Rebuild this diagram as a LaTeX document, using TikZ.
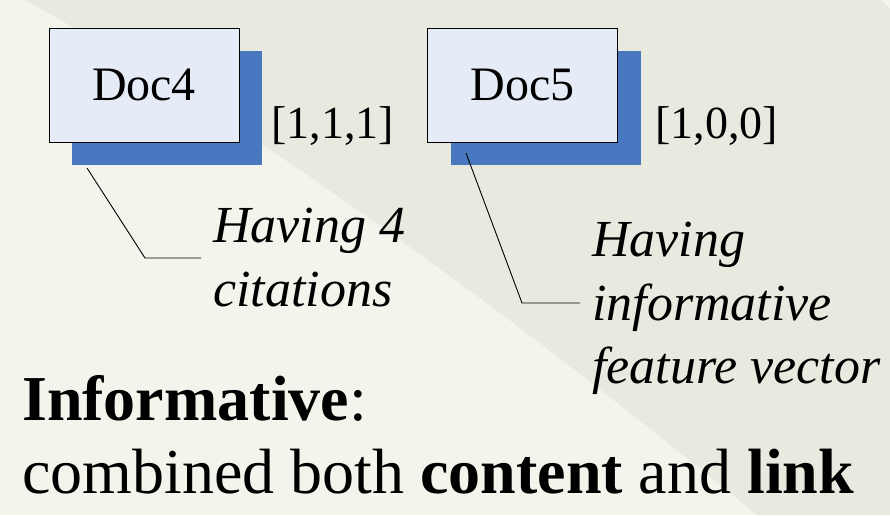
\documentclass[tikz,border=0pt]{standalone}
\usepackage{fontspec}
\setmainfont{Liberation Serif}
\definecolor{bglight}{HTML}{F3F4EC}
\definecolor{bgdark}{HTML}{E9EADF}
\definecolor{docfill}{HTML}{E6ECF7}
\definecolor{docshade}{HTML}{4878C0}
\tikzset{
  docbox/.style={draw=black, line width=1pt, fill=docfill, minimum width=190pt,
    minimum height=114pt, inner sep=0pt, font=\fontsize{48}{56}\selectfont},
  docshadow/.style={fill=docshade, minimum width=190pt, minimum height=114pt, inner sep=0pt},
  vec/.style={anchor=base west, inner sep=0pt, font=\fontsize{46}{54}\selectfont},
  note/.style={anchor=north west, inner sep=0pt, align=left,
    font=\fontsize{52}{63.5}\selectfont\itshape},
  callout/.style={draw=black, line width=0.9pt},
  big/.style={anchor=base west, inner sep=0pt, font=\fontsize{64}{73}\selectfont}
}
\begin{document}
\begin{tikzpicture}[x=1pt, y=-1pt]
  % background with the darker sweep on the upper right
  \fill[bglight] (0,0) rectangle (890,515);
  \fill[bgdark] (25,0) .. controls (235.7,116) and (479.7,287.7) .. (757,515)
    -- (890,515) -- (890,0) -- cycle;
  \fill[bglight] (881,0) .. controls (885,3) and (888,6) .. (890,9) -- (890,0) -- cycle;
  \useasboundingbox (0,0) rectangle (890,515);

  % documents with drop shadows
  \node[docshadow] (doc4s) at (167,108) {};
  \node[docbox] (doc4) at (144,85) {Doc4};
  \node[docshadow] (doc5s) at (545.5,108) {};
  \node[docbox] (doc5) at (522.5,85) {Doc5};

  % feature vectors
  \node[vec] (vec4) at (271,138) {[1,1,1]};
  \node[vec] (vec5) at (655,138) {[1,0,0]};

  % annotations
  \node[note] (note4) at (213,208) {Having 4\\citations};
  \node[note] (note5) at (592,222) {Having\\informative\\feature vector};

  % callout lines
  \coordinate (c4a) at (87,168);
  \coordinate (c4b) at (145,258);
  \coordinate (c4c) at (201,258);
  \draw[callout] (c4a) -- (c4b) -- (c4c);
  \coordinate (c5a) at (466,153);
  \coordinate (c5b) at (522,303);
  \coordinate (c5c) at (580,303);
  \draw[callout] (c5a) -- (c5b) -- (c5c);

  % conclusion
  \node[big] (title) at (22,420) {\textbf{Informative}:};
  \node[big] (summary) at (22,493) {combined both \textbf{content} and \textbf{link}};
\end{tikzpicture}
\end{document}
